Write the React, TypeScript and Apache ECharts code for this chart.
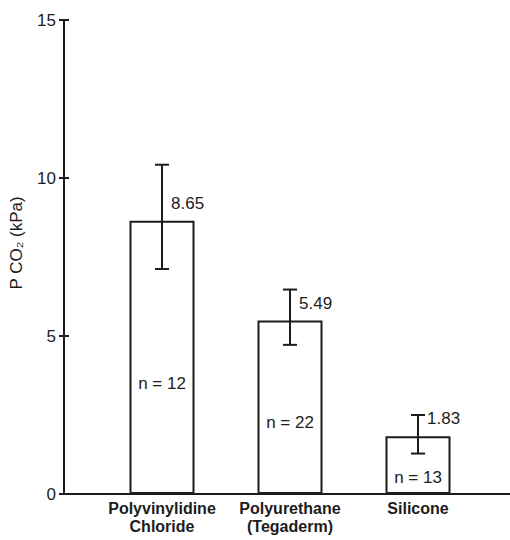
import React, { useEffect, useRef } from "react";
import * as echarts from "echarts";

const categories = ["Polyvinylidine\nChloride", "Polyurethane\n(Tegaderm)", "Silicone"];
const means = [8.65, 5.49, 1.83];
const errHigh = [10.42, 6.47, 2.5];
const errLow = [7.12, 4.72, 1.28];
const nCounts = [12, 22, 13];
const nLabelY = [3.5, 2.27, 0.53];
const yTicks = { min: 0, max: 15, interval: 5 };

const FONT = "'Liberation Sans', Arial, Helvetica, sans-serif";
const INK = "#1c1c1c";

export default function App() {
  const ref = useRef<HTMLDivElement>(null);
  useEffect(() => {
    document.body.style.margin = "0";
    if (!ref.current) return;
    const chart = echarts.init(ref.current, undefined, { renderer: "svg" });
    const option = {
      animation: false,
      backgroundColor: "#ffffff",
      textStyle: { fontFamily: FONT },
      grid: [
        { left: 64, right: 0, top: 20, bottom: 46 },
        { left: 98, right: 28, top: 20, bottom: 46 },
      ],
      xAxis: [
        {
          type: "value",
          gridIndex: 0,
          min: 0,
          max: 1,
          axisLine: { show: true, lineStyle: { color: INK, width: 2 } },
          axisTick: { show: false },
          axisLabel: { show: false },
          splitLine: { show: false },
        },
        {
          type: "category",
          gridIndex: 1,
          data: categories,
          axisLine: { show: false },
          axisTick: { show: false },
          axisLabel: {
            fontFamily: FONT,
            fontSize: 16,
            fontWeight: "bold",
            lineHeight: 18,
            color: INK,
            margin: 5,
            interval: 0,
          },
        },
      ],
      yAxis: [
        {
          type: "value",
          gridIndex: 0,
          position: "left",
          min: yTicks.min,
          max: yTicks.max,
          interval: yTicks.interval,
          axisLine: { show: true, lineStyle: { color: INK, width: 2 } },
          axisTick: { show: true, inside: false, length: 5, lineStyle: { color: INK, width: 2 } },
          axisLabel: { fontFamily: FONT, fontSize: 17, color: INK, margin: 8 },
          splitLine: { show: false },
        },
        {
          type: "value",
          gridIndex: 0,
          position: "left",
          offset: 0,
          min: yTicks.min,
          max: yTicks.max,
          interval: yTicks.interval,
          axisLine: { show: false },
          axisTick: { show: true, inside: true, length: 5, lineStyle: { color: INK, width: 2 } },
          axisLabel: { show: false },
          splitLine: { show: false },
        },
        {
          type: "value",
          gridIndex: 1,
          min: yTicks.min,
          max: yTicks.max,
          show: false,
        },
      ],
      graphic: [
        {
          type: "text",
          x: 16,
          y: 243,
          rotation: Math.PI / 2,
          style: {
            text: "P CO\u2082 (kPa)",
            fontFamily: FONT,
            fontSize: 17,
            fill: INK,
            align: "center",
            verticalAlign: "middle",
          },
        },
      ],
      series: [
        {
          type: "bar",
          xAxisIndex: 1,
          yAxisIndex: 2,
          data: means,
          barWidth: 65,
          itemStyle: { color: "#ffffff", borderColor: INK, borderWidth: 2 },
          label: {
            show: true,
            position: "top",
            distance: 9,
            align: "left",
            offset: [9, 0],
            fontFamily: FONT,
            fontSize: 17,
            color: INK,
            formatter: (p: any) => Number(p.value).toFixed(2),
          },
        },
        {
          type: "custom",
          xAxisIndex: 1,
          yAxisIndex: 2,
          data: means.map((_, i) => [i, errLow[i], errHigh[i]]),
          encode: { x: 0, y: [1, 2] },
          renderItem: (params: any, api: any) => {
            const i = api.value(0);
            const lo = api.coord([i, api.value(1)]);
            const hi = api.coord([i, api.value(2)]);
            const cap = 7;
            const style = { stroke: INK, lineWidth: 2 };
            return {
              type: "group",
              children: [
                { type: "line", shape: { x1: lo[0], y1: lo[1], x2: hi[0], y2: hi[1] }, style },
                { type: "line", shape: { x1: hi[0] - cap, y1: hi[1], x2: hi[0] + cap, y2: hi[1] }, style },
                { type: "line", shape: { x1: lo[0] - cap, y1: lo[1], x2: lo[0] + cap, y2: lo[1] }, style },
              ],
            };
          },
          z: 5,
        },
        {
          type: "custom",
          xAxisIndex: 1,
          yAxisIndex: 2,
          data: nLabelY.map((v, i) => [i, v]),
          encode: { x: 0, y: 1 },
          renderItem: (params: any, api: any) => {
            const p = api.coord([api.value(0), api.value(1)]);
            return {
              type: "text",
              x: p[0],
              y: p[1],
              style: {
                text: `n = ${nCounts[params.dataIndex]}`,
                fontFamily: FONT,
                fontSize: 17,
                fill: INK,
                align: "center",
                verticalAlign: "middle",
              },
            };
          },
          z: 6,
        },
      ],
    };
    chart.setOption(option as any);
    return () => chart.dispose();
  }, []);
  return <div ref={ref} style={{ width: 510, height: 540 }} />;
}
